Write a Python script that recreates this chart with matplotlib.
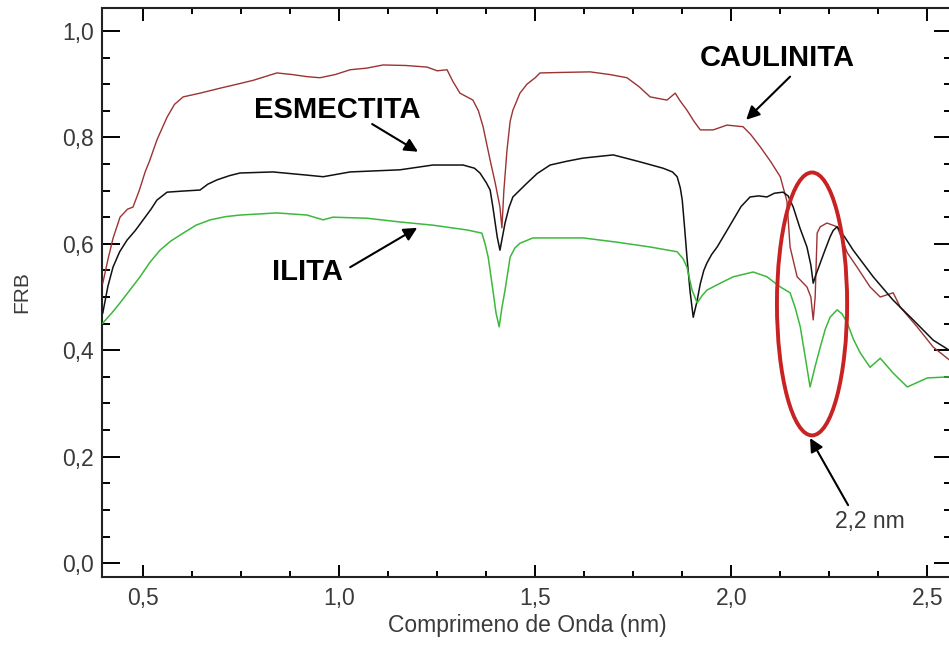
import matplotlib
matplotlib.use("Agg")
import matplotlib.pyplot as plt
from matplotlib.patches import Ellipse
from matplotlib.ticker import MultipleLocator, FuncFormatter

# Reflectance spectra (wavelength, FRB) for three clay minerals
caulinita_x = [0.397, 0.410, 0.423, 0.441, 0.460, 0.474, 0.490, 0.505, 0.517, 0.535,
               0.561, 0.580, 0.602, 0.645, 0.700, 0.729, 0.780, 0.841, 0.880, 0.918,
               0.951, 0.990, 1.028, 1.070, 1.112, 1.170, 1.224, 1.250, 1.275, 1.290,
               1.308, 1.341, 1.355, 1.367, 1.385, 1.398, 1.410, 1.415, 1.420, 1.428,
               1.436, 1.443, 1.461, 1.479, 1.500, 1.512, 1.570, 1.640, 1.690, 1.734,
               1.765, 1.793, 1.836, 1.857, 1.870, 1.887, 1.905, 1.921, 1.954, 1.989,
               2.030, 2.050, 2.074, 2.100, 2.125, 2.142, 2.150, 2.168, 2.193, 2.203,
               2.209, 2.214, 2.219, 2.227, 2.244, 2.270, 2.296, 2.321, 2.354, 2.380,
               2.413, 2.431, 2.474, 2.515, 2.556]
caulinita_y = [0.526, 0.570, 0.610, 0.650, 0.665, 0.669, 0.700, 0.735, 0.757, 0.795,
               0.838, 0.862, 0.876, 0.883, 0.893, 0.898, 0.907, 0.921, 0.918, 0.914,
               0.912, 0.918, 0.927, 0.930, 0.936, 0.935, 0.932, 0.925, 0.927, 0.905,
               0.883, 0.870, 0.850, 0.820, 0.757, 0.714, 0.669, 0.630, 0.700, 0.776,
               0.830, 0.851, 0.883, 0.900, 0.912, 0.921, 0.922, 0.923, 0.918, 0.912,
               0.895, 0.876, 0.870, 0.883, 0.868, 0.851, 0.830, 0.814, 0.814, 0.823,
               0.820, 0.805, 0.782, 0.755, 0.726, 0.680, 0.594, 0.538, 0.519, 0.500,
               0.457, 0.500, 0.620, 0.632, 0.639, 0.632, 0.583, 0.556, 0.519, 0.500,
               0.508, 0.481, 0.444, 0.406, 0.382]

esmectita_x = [0.397, 0.410, 0.423, 0.440, 0.459, 0.480, 0.500, 0.520, 0.535, 0.561,
               0.600, 0.645, 0.665, 0.688, 0.720, 0.747, 0.831, 0.918, 0.959, 1.028,
               1.155, 1.239, 1.316, 1.345, 1.359, 1.375, 1.385, 1.392, 1.403, 1.410,
               1.423, 1.433, 1.443, 1.461, 1.479, 1.505, 1.538, 1.580, 1.622, 1.699,
               1.767, 1.826, 1.850, 1.862, 1.870, 1.875, 1.881, 1.887, 1.895, 1.903,
               1.912, 1.921, 1.930, 1.938, 1.950, 1.964, 1.985, 2.005, 2.025, 2.048,
               2.070, 2.091, 2.110, 2.132, 2.145, 2.158, 2.175, 2.193, 2.203, 2.209,
               2.215, 2.227, 2.240, 2.252, 2.260, 2.270, 2.290, 2.311, 2.362, 2.413,
               2.464, 2.515, 2.556]
esmectita_y = [0.470, 0.520, 0.556, 0.585, 0.607, 0.625, 0.645, 0.665, 0.682, 0.697,
               0.699, 0.701, 0.712, 0.720, 0.728, 0.733, 0.735, 0.729, 0.726, 0.735,
               0.739, 0.748, 0.748, 0.742, 0.733, 0.715, 0.701, 0.669, 0.613, 0.588,
               0.639, 0.668, 0.688, 0.701, 0.714, 0.732, 0.748, 0.755, 0.761, 0.767,
               0.754, 0.742, 0.735, 0.726, 0.705, 0.682, 0.630, 0.575, 0.510, 0.462,
               0.490, 0.525, 0.550, 0.564, 0.580, 0.594, 0.620, 0.645, 0.670, 0.688,
               0.690, 0.688, 0.695, 0.697, 0.690, 0.669, 0.630, 0.594, 0.560, 0.526,
               0.540, 0.564, 0.590, 0.613, 0.625, 0.632, 0.612, 0.588, 0.538, 0.494,
               0.457, 0.419, 0.400]

ilita_x = [0.397, 0.420, 0.441, 0.465, 0.492, 0.517, 0.543, 0.570, 0.602, 0.635,
           0.671, 0.710, 0.747, 0.841, 0.918, 0.959, 0.984, 1.071, 1.155, 1.239,
           1.326, 1.364, 1.372, 1.380, 1.392, 1.400, 1.408, 1.415, 1.423, 1.436,
           1.448, 1.461, 1.494, 1.622, 1.709, 1.793, 1.862, 1.877, 1.887, 1.900,
           1.913, 1.925, 1.938, 1.972, 2.005, 2.056, 2.091, 2.125, 2.150, 2.163,
           2.176, 2.188, 2.201, 2.214, 2.227, 2.240, 2.252, 2.270, 2.283, 2.296,
           2.312, 2.329, 2.354, 2.380, 2.413, 2.449, 2.500, 2.556]
ilita_y = [0.451, 0.470, 0.489, 0.512, 0.538, 0.565, 0.588, 0.605, 0.620, 0.635,
           0.645, 0.651, 0.654, 0.658, 0.654, 0.645, 0.650, 0.648, 0.641, 0.635,
           0.626, 0.620, 0.600, 0.575, 0.513, 0.470, 0.444, 0.480, 0.513, 0.575,
           0.592, 0.601, 0.611, 0.611, 0.603, 0.594, 0.585, 0.572, 0.556, 0.513,
           0.489, 0.502, 0.513, 0.526, 0.538, 0.547, 0.538, 0.519, 0.508, 0.480,
           0.444, 0.390, 0.331, 0.370, 0.406, 0.440, 0.462, 0.476, 0.468, 0.451,
           0.420, 0.395, 0.368, 0.385, 0.357, 0.331, 0.348, 0.350]

x_ticks = [0.5, 1.0, 1.5, 2.0, 2.5]
y_ticks = [0.0, 0.2, 0.4, 0.6, 0.8, 1.0]

plt.rcParams['font.family'] = ['Liberation Sans', 'DejaVu Sans']

fig = plt.figure(figsize=(9.49, 6.49), dpi=100)
ax = fig.add_axes([102 / 949, 72 / 649, 850 / 949, 569 / 649])

ax.plot(caulinita_x, caulinita_y, color='#9b3333', lw=1.0, zorder=3)
ax.plot(esmectita_x, esmectita_y, color='#111111', lw=1.1, zorder=3)
ax.plot(ilita_x, ilita_y, color='#3cb83c', lw=1.1, zorder=3)

ax.set_xlim(0.395, 2.563)
ax.set_ylim(-0.026, 1.043)

fmt = FuncFormatter(lambda v, p: f"{v:.1f}".replace('.', ','))
ax.set_xticks(x_ticks)
ax.set_yticks(y_ticks)
ax.xaxis.set_major_formatter(fmt)
ax.yaxis.set_major_formatter(fmt)
ax.xaxis.set_minor_locator(MultipleLocator(0.125))
ax.yaxis.set_minor_locator(MultipleLocator(0.05))

ax.tick_params(axis='x', which='major', direction='in', length=9, width=1.4,
               top=True, labelsize=16.5, labelcolor='#3a3a3a', pad=7)
ax.tick_params(axis='x', which='minor', direction='in', length=4.5, width=1.4, top=True)
ax.tick_params(axis='y', which='major', direction='in', length=13, width=1.4,
               right=True, labelsize=16.5, labelcolor='#3a3a3a', pad=6)
ax.tick_params(axis='y', which='minor', direction='in', length=6, width=1.4, right=True)
for s in ax.spines.values():
    s.set_linewidth(1.5)
    s.set_color('#222222')

ax.set_xlabel('Comprimeno de Onda (nm)', fontsize=16.5, color='#3a3a3a', labelpad=3)
ax.set_ylabel('FRB', fontsize=15, color='#3a3a3a', labelpad=22)

# Highlight of the 2.2 nm absorption feature
ax.add_patch(Ellipse((2.206, 0.487), 0.179, 0.494, fill=False,
                     edgecolor='#c82222', lw=2.8, zorder=5))

arrow = dict(arrowstyle='-|>', color='black', lw=1.5, mutation_scale=20,
             shrinkA=0, shrinkB=0)
ax.annotate('', xy=(2.038, 0.833), xytext=(2.150, 0.914), arrowprops=arrow, zorder=6)
ax.annotate('', xy=(1.201, 0.773), xytext=(1.084, 0.825), arrowprops=arrow, zorder=6)
ax.annotate('', xy=(1.199, 0.630), xytext=(1.028, 0.556), arrowprops=arrow, zorder=6)
ax.annotate('', xy=(2.201, 0.235), xytext=(2.298, 0.109), arrowprops=arrow, zorder=6)

ax.text(2.117, 0.949, 'CAULINITA', fontsize=21, fontweight='bold', ha='center', va='center')
ax.text(0.995, 0.852, 'ESMECTITA', fontsize=21, fontweight='bold', ha='center', va='center')
ax.text(0.920, 0.547, 'ILITA', fontsize=21, fontweight='bold', ha='center', va='center')
ax.text(2.354, 0.079, '2,2 nm', fontsize=16.5, color='#3a3a3a', ha='center', va='center')

fig.savefig('out.png', dpi=100)
